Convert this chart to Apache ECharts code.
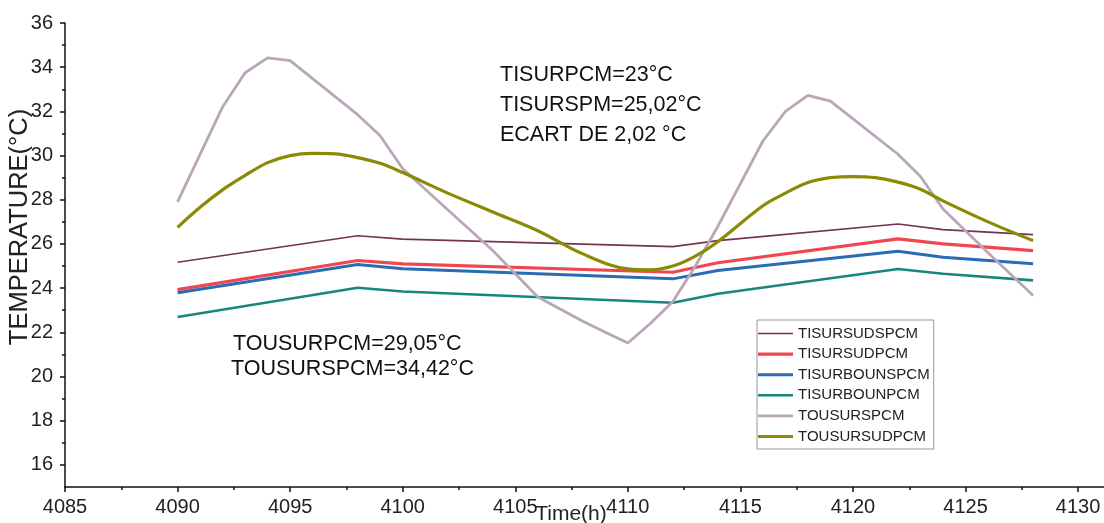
<!DOCTYPE html>
<html>
<head>
<meta charset="utf-8">
<title>Températures</title>
<script src="https://cdn.jsdelivr.net/npm/echarts@6/dist/echarts.min.js"></script>
<style>
  html, body { margin: 0; padding: 0; background: #ffffff; }
  #chart { width: 1104px; height: 523px; }
</style>
</head>
<body>
<div id="chart"></div>
<script>
// Time axis (hours) and tick labels
const xTickLabels = [4085, 4090, 4095, 4100, 4105, 4110, 4115, 4120, 4125, 4130];
const xMinorTicks = [4087.5, 4092.5, 4097.5, 4102.5, 4107.5, 4112.5, 4117.5, 4122.5, 4127.5];
const yTickLabels = [16, 18, 20, 22, 24, 26, 28, 30, 32, 34, 36];
const yMinorTicks = [17, 19, 21, 23, 25, 27, 29, 31, 33, 35];

// Series names (legend order)
const seriesNames = ['TISURSUDSPCM', 'TISURSUDPCM', 'TISURBOUNSPCM', 'TISURBOUNPCM', 'TOUSURSPCM', 'TOUSURSUDPCM'];

// Inner surface temperatures: shared hours
const innerHours = [4090, 4098, 4100, 4112, 4114, 4122, 4124, 4128];
const tiSurSudSpcm = [25.17, 26.37, 26.22, 25.88, 26.15, 26.9, 26.65, 26.42];
const tiSurSudPcm = [23.93, 25.25, 25.1, 24.72, 25.15, 26.23, 26.0, 25.7];
const tiSurBounSpcm = [23.79, 25.07, 24.88, 24.42, 24.8, 25.67, 25.4, 25.1];
const tiSurBounPcm = [22.69, 24.02, 23.85, 23.34, 23.75, 24.87, 24.65, 24.35];

// Outer surface without PCM
const touSurSpcmHours = [4090, 4092, 4093, 4094, 4095, 4098, 4099, 4100, 4102, 4104, 4106, 4108, 4109, 4110,
  4111, 4112, 4113, 4114, 4116, 4117, 4118, 4119, 4122, 4123, 4124, 4126, 4128];
const touSurSpcm = [27.9, 32.2, 33.75, 34.42, 34.3, 31.85, 30.9, 29.4, 27.55, 25.7, 23.6, 22.5, 22.0, 21.52,
  22.4, 23.4, 25.0, 26.8, 30.66, 32.0, 32.72, 32.46, 30.06, 29.05, 27.58, 25.6, 23.67];

// Outer surface with PCM
const touSurSudPcmHours = [4090, 4091, 4092, 4093, 4094, 4095, 4096, 4097, 4098, 4099, 4100, 4102, 4104, 4106,
  4108, 4110, 4111, 4112, 4113, 4114, 4116, 4117, 4118, 4119, 4120, 4121, 4122, 4123, 4124, 4126, 4128];
const touSurSudPcm = [26.75, 27.66, 28.45, 29.1, 29.68, 30.0, 30.1, 30.08, 29.91, 29.65, 29.23, 28.3, 27.45, 26.6,
  25.55, 24.87, 24.83, 25.0, 25.45, 26.1, 27.73, 28.3, 28.78, 29.0, 29.05, 29.0, 28.8, 28.48, 27.95, 27.0, 26.15];

const pairs = (xs, ys) => xs.map((x, i) => [x, ys[i]]);

const textFont = "'Liberation Sans',Arial,sans-serif";
const axisColor = '#111';

const styles = [
  { color: '#74334f', width: 1.6 },
  { color: '#f04650', width: 3.2 },
  { color: '#2a6cb4', width: 3 },
  { color: '#17877a', width: 2.6 },
  { color: '#b9a7b9', width: 2.8 },
  { color: '#8a8a06', width: 3.2 }
];
const seriesData = [
  pairs(innerHours, tiSurSudSpcm),
  pairs(innerHours, tiSurSudPcm),
  pairs(innerHours, tiSurBounSpcm),
  pairs(innerHours, tiSurBounPcm),
  pairs(touSurSpcmHours, touSurSpcm),
  pairs(touSurSudPcmHours, touSurSudPcm)
];

const chart = echarts.init(document.getElementById('chart'), null, { renderer: 'canvas' });

const annotation = (text, x, y) => ({
  type: 'text', x: x, y: y,
  style: { text: text, fill: '#111', font: '21.5px ' + textFont, textVerticalAlign: 'middle' }
});

// Legend swatch: a plain stroke as thick as the series line
const swatch = (w) => 'path://M0,0H35V' + w + 'H0Z';

chart.setOption({
  backgroundColor: '#ffffff',
  animation: false,
  grid: { left: 65, right: 0, top: 23, bottom: 36 },
  xAxis: [{
    type: 'value', min: 4085, max: 4131.15,
    axisLine: { lineStyle: { color: axisColor, width: 1.5 } },
    axisTick: { show: true, length: 5, customValues: xTickLabels, lineStyle: { color: axisColor, width: 1.5 } },
    axisLabel: { customValues: xTickLabels, margin: 10, fontSize: 20, fontFamily: textFont, color: '#222',
      formatter: (v) => String(v) },
    splitLine: { show: false }
  }, {
    type: 'value', min: 4085, max: 4131.15, position: 'bottom',
    axisLine: { show: false },
    axisTick: { show: true, length: 3, customValues: xMinorTicks, lineStyle: { color: axisColor, width: 1.5 } },
    axisLabel: { show: false },
    splitLine: { show: false }
  }],
  yAxis: [{
    type: 'value', min: 15, max: 36,
    axisLine: { show: true, lineStyle: { color: axisColor, width: 1.5 } },
    axisTick: { show: true, length: 5, customValues: yTickLabels, lineStyle: { color: axisColor, width: 1.5 } },
    axisLabel: { customValues: yTickLabels, margin: 12, fontSize: 20, fontFamily: textFont, color: '#222',
      formatter: (v) => String(v) },
    splitLine: { show: false }
  }, {
    type: 'value', min: 15, max: 36, position: 'left',
    axisLine: { show: false },
    axisTick: { show: true, length: 3, customValues: yMinorTicks, lineStyle: { color: axisColor, width: 1.5 } },
    axisLabel: { show: false },
    splitLine: { show: false }
  }],
  legend: {
    orient: 'vertical', left: 757, top: 320,
    padding: [6, 4, 5, 1],
    itemWidth: 35, itemHeight: 14, itemGap: 5.6,
    borderColor: '#999', borderWidth: 1,
    textStyle: { fontSize: 15, fontFamily: textFont, color: '#222' },
    data: seriesNames.map((name, i) => ({ name: name, icon: swatch(styles[i].width) }))
  },
  series: seriesNames.map((name, i) => ({
    name: name,
    type: 'line',
    xAxisIndex: 0, yAxisIndex: 0,
    data: seriesData[i],
    showSymbol: false,
    symbol: 'none',
    smooth: i === 5 ? 0.35 : false,
    lineStyle: { color: styles[i].color, width: styles[i].width },
    itemStyle: { color: styles[i].color }
  })),
  graphic: [
    {
      type: 'text', x: 20, y: 227, rotation: Math.PI / 2,
      style: { text: 'TEMPERATURE(°C)', fill: '#222', font: '25.5px ' + textFont, textAlign: 'center', textVerticalAlign: 'middle' }
    },
    {
      type: 'text', x: 571, y: 514,
      style: { text: 'Time(h)', fill: '#222', font: '21px ' + textFont, textAlign: 'center', textVerticalAlign: 'middle' }
    },
    annotation('TISURPCM=23°C', 500, 75.5),
    annotation('TISURSPM=25,02°C', 500, 105.5),
    annotation('ECART DE 2,02 °C', 500, 135.5),
    annotation('TOUSURPCM=29,05°C', 233, 344),
    annotation('TOUSURSPCM=34,42°C', 231, 369.5)
  ]
});
</script>
</body>
</html>
